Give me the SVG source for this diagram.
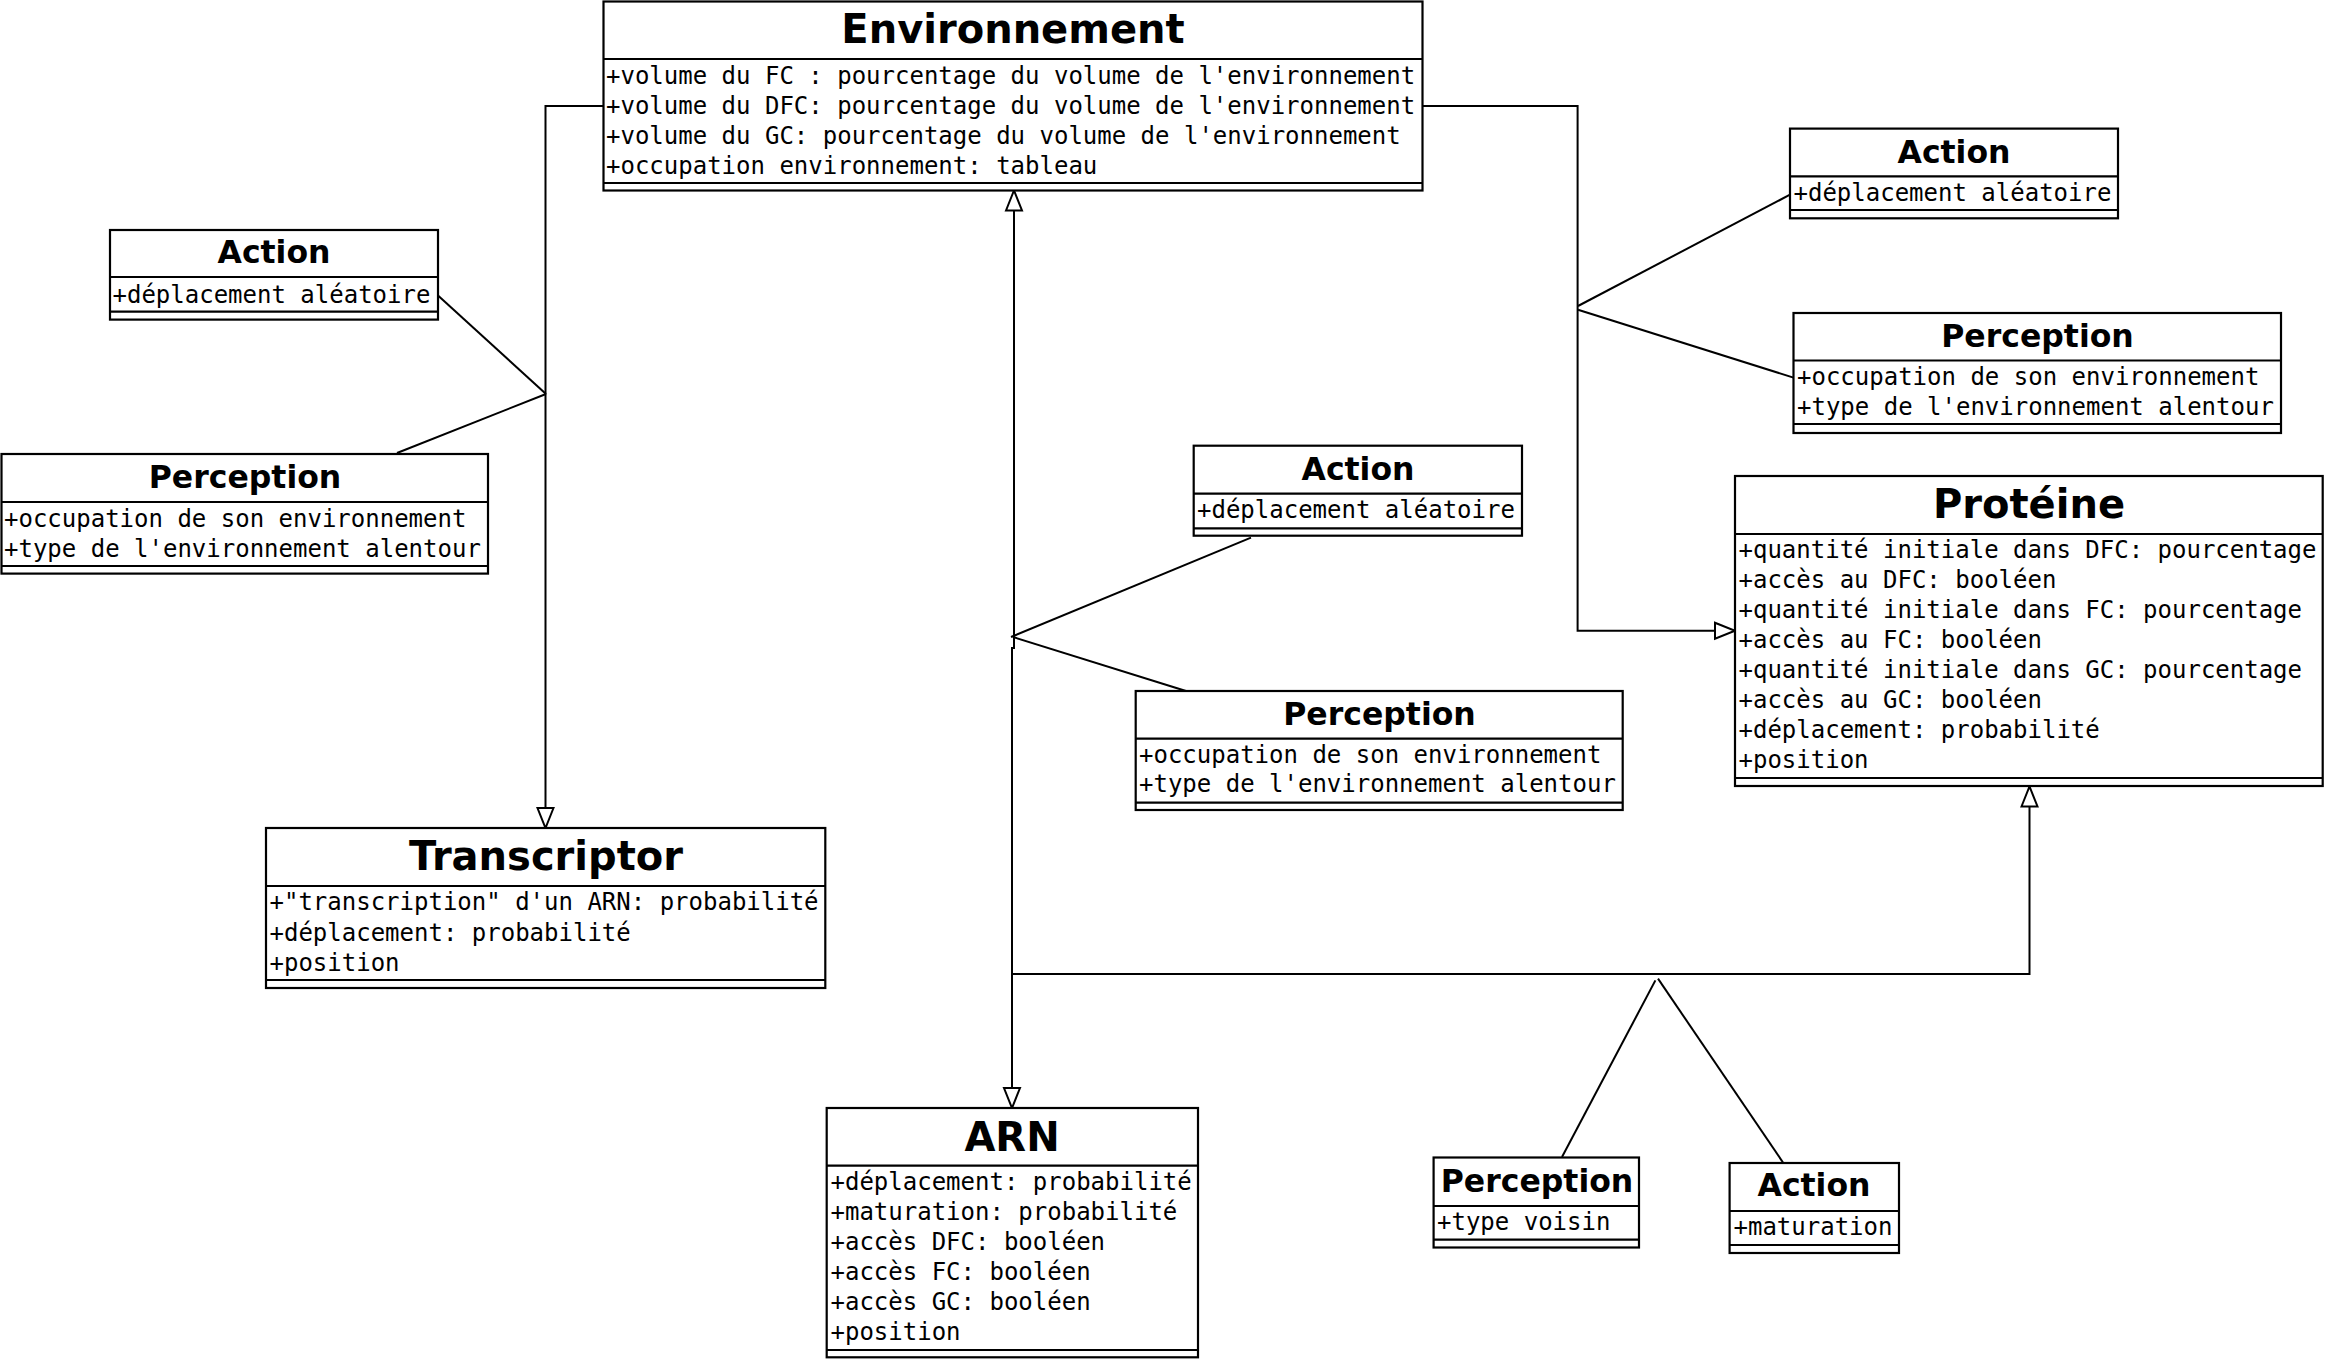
<svg xmlns="http://www.w3.org/2000/svg" width="2325" height="1360" viewBox="0 0 2325 1360">
<style>
.box{fill:#fff;stroke:#000;stroke-width:2.2}
.sep{stroke:#000;stroke-width:2.2}
.t{font-family:"DejaVu Sans","Liberation Sans",sans-serif;font-weight:bold;text-anchor:middle;fill:#000}
.big{font-size:40px}
.small{font-size:31.5px}
.a{font-family:"DejaVu Sans Mono","Liberation Mono",monospace;font-size:24px;fill:#000;white-space:pre}
.c{fill:none;stroke:#000;stroke-width:2}
</style>
<defs>
<marker id="tri" markerUnits="userSpaceOnUse" markerWidth="24" markerHeight="20" refX="20" refY="9" orient="auto-start-reverse" overflow="visible">
<path d="M0,1 L20,9 L0,17 Z" fill="#fff" stroke="#000" stroke-width="2"/>
</marker>
</defs>
<rect width="2325" height="1360" fill="#fff"/>

<g id="connectors">
<path class="c" d="M603.5,106 H545.5 V828" marker-end="url(#tri)"/>
<path class="c" d="M438,295.5 L546,394"/>
<path class="c" d="M397,453 L546,394"/>
<path class="c" d="M1012,1108 V648 H1014 V190.5" marker-start="url(#tri)" marker-end="url(#tri)"/>
<path class="c" d="M1251,537.7 L1011,637"/>
<path class="c" d="M1186,691 L1013,637"/>
<path class="c" d="M1422.5,106 H1577.6 V630.7 H1735" marker-end="url(#tri)"/>
<path class="c" d="M1790,194.7 L1578,306"/>
<path class="c" d="M1793.5,377.6 L1578,309.7"/>
<path class="c" d="M1012,974 H2029.5 V786.5" marker-end="url(#tri)"/>
<path class="c" d="M1562,1157 L1655.4,980.4"/>
<path class="c" d="M1783,1162.5 L1658,978.6"/>
</g>

<g id="environnement">
<rect class="box" x="603.5" y="1.5" width="819" height="189"/>
<line class="sep" x1="603.5" y1="59" x2="1422.5" y2="59"/>
<line class="sep" x1="603.5" y1="183" x2="1422.5" y2="183"/>
<text class="t big" x="1013" y="43">Environnement</text>
<text class="a" x="606" y="84">+volume du FC : pourcentage du volume de l'environnement</text>
<text class="a" x="606" y="114">+volume du DFC: pourcentage du volume de l'environnement</text>
<text class="a" x="606" y="144">+volume du GC: pourcentage du volume de l'environnement</text>
<text class="a" x="606" y="174">+occupation environnement: tableau</text>
</g>

<g id="action-left">
<rect class="box" x="110" y="230" width="328" height="89.6"/>
<line class="sep" x1="110" y1="277" x2="438" y2="277"/>
<line class="sep" x1="110" y1="311.6" x2="438" y2="311.6"/>
<text class="t small" x="274" y="263">Action</text>
<text class="a" x="112.5" y="302.5">+déplacement aléatoire</text>
</g>

<g id="perception-left">
<rect class="box" x="1.5" y="454" width="486.5" height="119.6"/>
<line class="sep" x1="1.5" y1="502" x2="488" y2="502"/>
<line class="sep" x1="1.5" y1="566" x2="488" y2="566"/>
<text class="t small" x="245" y="487.5">Perception</text>
<text class="a" x="4" y="527">+occupation de son environnement</text>
<text class="a" x="4" y="557">+type de l'environnement alentour</text>
</g>

<g id="transcriptor">
<rect class="box" x="266" y="828" width="559.3" height="160"/>
<line class="sep" x1="266" y1="886" x2="825.3" y2="886"/>
<line class="sep" x1="266" y1="980" x2="825.3" y2="980"/>
<text class="t big" x="546" y="870">Transcriptor</text>
<text class="a" x="269.5" y="910">+"transcription" d'un ARN: probabilité</text>
<text class="a" x="269.5" y="940.5">+déplacement: probabilité</text>
<text class="a" x="269.5" y="970.5">+position</text>
</g>

<g id="arn">
<rect class="box" x="826.7" y="1108" width="371.3" height="249.3"/>
<line class="sep" x1="826.7" y1="1165.7" x2="1198" y2="1165.7"/>
<line class="sep" x1="826.7" y1="1350" x2="1198" y2="1350"/>
<text class="t big" x="1012" y="1150.7">ARN</text>
<text class="a" x="830.5" y="1190">+déplacement: probabilité</text>
<text class="a" x="830.5" y="1220">+maturation: probabilité</text>
<text class="a" x="830.5" y="1250">+accès DFC: booléen</text>
<text class="a" x="830.5" y="1280">+accès FC: booléen</text>
<text class="a" x="830.5" y="1310">+accès GC: booléen</text>
<text class="a" x="830.5" y="1340">+position</text>
</g>

<g id="action-middle">
<rect class="box" x="1193.7" y="445.7" width="328.3" height="90"/>
<line class="sep" x1="1193.7" y1="493.7" x2="1522" y2="493.7"/>
<line class="sep" x1="1193.7" y1="528.3" x2="1522" y2="528.3"/>
<text class="t small" x="1358" y="480">Action</text>
<text class="a" x="1197" y="518.3">+déplacement aléatoire</text>
</g>

<g id="perception-middle">
<rect class="box" x="1135.7" y="691" width="487" height="119"/>
<line class="sep" x1="1135.7" y1="738.7" x2="1622.7" y2="738.7"/>
<line class="sep" x1="1135.7" y1="802.7" x2="1622.7" y2="802.7"/>
<text class="t small" x="1379.5" y="725">Perception</text>
<text class="a" x="1139" y="763.3">+occupation de son environnement</text>
<text class="a" x="1139" y="792">+type de l'environnement alentour</text>
</g>

<g id="action-right">
<rect class="box" x="1790" y="128.6" width="328" height="89.7"/>
<line class="sep" x1="1790" y1="176.4" x2="2118" y2="176.4"/>
<line class="sep" x1="1790" y1="210" x2="2118" y2="210"/>
<text class="t small" x="1954" y="163">Action</text>
<text class="a" x="1793.5" y="200.6">+déplacement aléatoire</text>
</g>

<g id="perception-right">
<rect class="box" x="1793.5" y="313" width="487.5" height="120"/>
<line class="sep" x1="1793.5" y1="360.5" x2="2281" y2="360.5"/>
<line class="sep" x1="1793.5" y1="424" x2="2281" y2="424"/>
<text class="t small" x="2037.5" y="347">Perception</text>
<text class="a" x="1797" y="385">+occupation de son environnement</text>
<text class="a" x="1797" y="414.7">+type de l'environnement alentour</text>
</g>

<g id="proteine">
<rect class="box" x="1735" y="476" width="587.7" height="310"/>
<line class="sep" x1="1735" y1="534" x2="2322.7" y2="534"/>
<line class="sep" x1="1735" y1="778" x2="2322.7" y2="778"/>
<text class="t big" x="2029" y="518">Protéine</text>
<text class="a" x="1738.5" y="558">+quantité initiale dans DFC: pourcentage</text>
<text class="a" x="1738.5" y="588">+accès au DFC: booléen</text>
<text class="a" x="1738.5" y="618">+quantité initiale dans FC: pourcentage</text>
<text class="a" x="1738.5" y="648">+accès au FC: booléen</text>
<text class="a" x="1738.5" y="678">+quantité initiale dans GC: pourcentage</text>
<text class="a" x="1738.5" y="708">+accès au GC: booléen</text>
<text class="a" x="1738.5" y="738">+déplacement: probabilité</text>
<text class="a" x="1738.5" y="768">+position</text>
</g>

<g id="perception-bottom">
<rect class="box" x="1433.6" y="1157.5" width="205.4" height="90"/>
<line class="sep" x1="1433.6" y1="1206" x2="1639" y2="1206"/>
<line class="sep" x1="1433.6" y1="1239.6" x2="1639" y2="1239.6"/>
<text class="t small" x="1537" y="1192">Perception</text>
<text class="a" x="1437" y="1230">+type voisin</text>
</g>

<g id="action-bottom">
<rect class="box" x="1729.6" y="1163" width="169.4" height="90"/>
<line class="sep" x1="1729.6" y1="1211" x2="1899" y2="1211"/>
<line class="sep" x1="1729.6" y1="1245" x2="1899" y2="1245"/>
<text class="t small" x="1814" y="1196.4">Action</text>
<text class="a" x="1733.5" y="1235">+maturation</text>
</g>
</svg>
